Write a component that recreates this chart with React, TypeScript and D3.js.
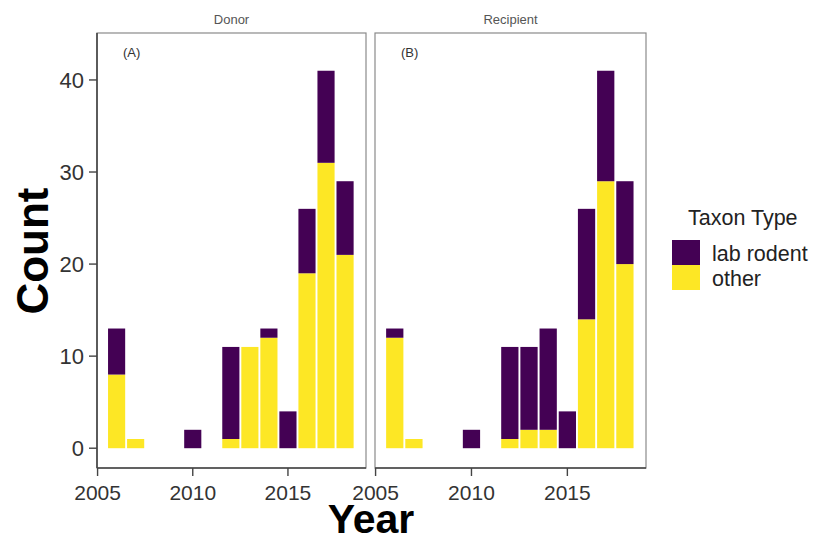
import React from 'react';
import * as d3 from 'd3';

const years = [2006, 2007, 2008, 2009, 2010, 2011, 2012, 2013, 2014, 2015, 2016, 2017, 2018];
const donorOther = [8, 1, 0, 0, 0, 0, 1, 11, 12, 0, 19, 31, 21];
const donorRodent = [5, 0, 0, 0, 2, 0, 10, 0, 1, 4, 7, 10, 8];
const recipientOther = [12, 1, 0, 0, 0, 0, 1, 2, 2, 0, 14, 29, 20];
const recipientRodent = [1, 0, 0, 0, 2, 0, 10, 9, 11, 4, 12, 12, 9];
const panelNames = ['Donor', 'Recipient'];
const panelTags = ['(A)', '(B)'];
const keys = ['other', 'lab rodent'];
const legendKeys = ['lab rodent', 'other'];
const yTicks = [0, 10, 20, 30, 40];
const xTicks = [2005, 2010, 2015];

const colors: Record<string, string> = { 'lab rodent': '#440154', other: '#FDE725' };
const font = 'Liberation Sans, Arial, Helvetica, sans-serif';

type Row = { year: number; other: number; 'lab rodent': number };

const App: React.FC = () => {
  const width = 824;
  const height = 542;
  const top = 33;
  const bottom = 468;
  const panels = [
    { x0: 97, x1: 366, other: donorOther, rodent: donorRodent },
    { x0: 375, x1: 646, other: recipientOther, rodent: recipientRodent },
  ];

  const y = d3.scaleLinear().domain([-2.15, 45.1]).range([bottom, top]);
  const stack = d3.stack<Row>().keys(keys);

  return (
    <div style={{ position: 'absolute', left: 0, top: 0 }}>
      <svg width={width} height={height} style={{ display: 'block', background: '#fff' }}>
        {panels.map((p, pi) => {
          const x = d3.scaleLinear().domain([2004.97, 2019.1]).range([p.x0, p.x1]);
          const rows: Row[] = years.map((yr, i) => ({ year: yr, other: p.other[i], 'lab rodent': p.rodent[i] }));
          const series = stack(rows);
          const bw = x(2005.9) - x(2005);
          return (
            <g key={pi}>
              <text x={(p.x0 + p.x1) / 2} y={24} textAnchor="middle" fontSize={13} fill="#555" fontFamily={font}>
                {panelNames[pi]}
              </text>
              <rect x={p.x0} y={top} width={p.x1 - p.x0} height={bottom - top} fill="#fff" stroke="#8a8a8a" strokeWidth={1.2} />
              {series.map(s => (
                <g key={s.key} fill={colors[s.key]}>
                  {s.map((d, i) =>
                    d[1] - d[0] > 0 ? (
                      <rect key={i} x={x(d.data.year) - bw / 2} y={y(d[1])} width={bw} height={y(d[0]) - y(d[1])} />
                    ) : null
                  )}
                </g>
              ))}
              <text x={p.x0 + 26} y={57} fontSize={13} fill="#333" fontFamily={font}>
                {panelTags[pi]}
              </text>
              {/* bottom axis */}
              <line x1={p.x0} x2={p.x1} y1={bottom} y2={bottom} stroke="#444" strokeWidth={1.6} />
              {xTicks.map(t => (
                <g key={t} transform={`translate(${x(t)},0)`}>
                  <line y1={bottom} y2={bottom + 8} stroke="#444" strokeWidth={1.4} />
                  <text y={500} textAnchor="middle" fontSize={21} fill="#333" fontFamily={font}>
                    {t}
                  </text>
                </g>
              ))}
              {pi === 0 && (
                <g>
                  <line x1={p.x0} x2={p.x0} y1={top} y2={bottom} stroke="#444" strokeWidth={1.6} />
                  {yTicks.map(t => (
                    <g key={t} transform={`translate(0,${y(t)})`}>
                      <line x1={p.x0 - 8} x2={p.x0} stroke="#444" strokeWidth={1.4} />
                      <text x={p.x0 - 13} dy="0.36em" textAnchor="end" fontSize={22} fill="#333" fontFamily={font}>
                        {t}
                      </text>
                    </g>
                  ))}
                </g>
              )}
            </g>
          );
        })}

        <text transform="translate(48,251) rotate(-90)" textAnchor="middle" fontSize={44} fontWeight="bold" fill="#000" fontFamily={font}>
          Count
        </text>
        <text x={371} y={533} textAnchor="middle" fontSize={41} fontWeight="bold" fill="#000" fontFamily={font}>
          Year
        </text>

        <g fontFamily={font}>
          <text x={688} y={225} fontSize={21.5} fill="#222">Taxon Type</text>
          {legendKeys.map((k, i) => (
            <g key={k} transform={`translate(672,${240 + i * 25})`}>
              <rect width={28} height={25} fill={colors[k]} />
              <text x={40} y={13} dy="0.35em" fontSize={21.5} fill="#222">{k}</text>
            </g>
          ))}
        </g>
      </svg>
    </div>
  );
};

export default App;
